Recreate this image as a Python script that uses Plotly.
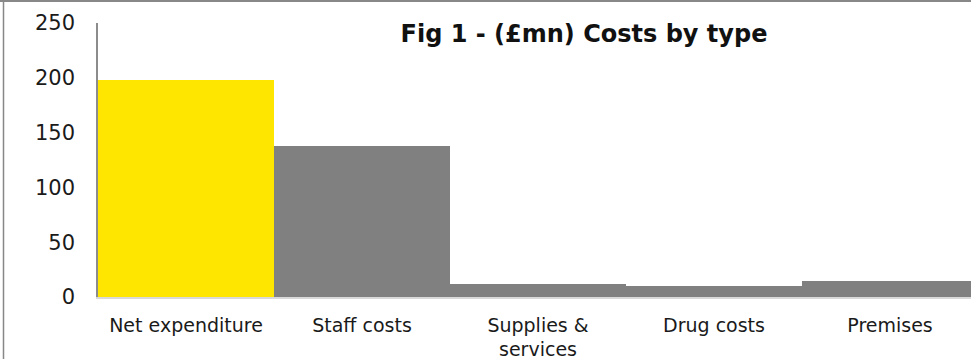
import plotly.graph_objects as go

categories = ["Net expenditure", "Staff costs", "Supplies &<br>services", "Drug costs", "Premises"]
values = [198, 138, 12, 10, 15]
y_ticks = [0, 50, 100, 150, 200, 250]
title_text = "Fig 1 - (£mn) Costs by type"

YELLOW = "#FFE600"
GREY = "#808080"
bar_colors = [YELLOW, GREY, GREY, GREY, GREY]

W, H = 971, 359
ML, MT, MB, MR = 98, 23, 62, 0
FONT = "DejaVu Sans"

fig = go.Figure(go.Bar(
    x=list(range(len(categories))), y=values,
    marker=dict(color=bar_colors, line=dict(width=0)),
    showlegend=False, hoverinfo="skip",
))

plot_w = W - ML - MR
cat_px = 176.0
fig.update_layout(
    width=W, height=H,
    margin=dict(l=ML, r=MR, t=MT, b=MB, pad=0),
    paper_bgcolor="white", plot_bgcolor="white",
    bargap=0,
    font=dict(family=FONT, color="#1a1a1a"),
    title=dict(text=title_text, xref="container", yref="container",
               x=584 / W, y=1 - 34 / H, xanchor="center", yanchor="middle",
               font=dict(family=FONT, size=24, weight="bold", color="#111111")),
    xaxis=dict(
        tickmode="array", tickvals=list(range(len(categories))), ticktext=categories,
        range=[-0.5, -0.5 + plot_w / cat_px],
        showgrid=False, zeroline=False,
        showline=True, linecolor="#d9d9d9", linewidth=1.5,
        ticks="", tickfont=dict(family=FONT, size=19, color="#1a1a1a"),
        ticklabelstandoff=10,
    ),
    yaxis=dict(
        range=[0, 250], tickmode="array", tickvals=y_ticks,
        showgrid=False, zeroline=False,
        showline=True, linecolor="#8c8c8c", linewidth=1.5,
        ticks="", tickfont=dict(family=FONT, size=21, color="#1a1a1a"),
        ticklabelstandoff=17,
    ),
)

def px_to_paper_x(px):
    return (px - ML) / plot_w

def px_to_paper_y(py):
    return (H - MB - py) / (H - MT - MB)

fig.add_shape(type="line", xref="paper", yref="paper",
              x0=px_to_paper_x(3.5), x1=px_to_paper_x(3.5),
              y0=px_to_paper_y(0), y1=px_to_paper_y(H),
              line=dict(color="#888888", width=1.5))
fig.add_shape(type="line", xref="paper", yref="paper",
              x0=px_to_paper_x(0), x1=px_to_paper_x(W),
              y0=px_to_paper_y(1), y1=px_to_paper_y(1),
              line=dict(color="#888888", width=2))

fig.write_html("out.html")
